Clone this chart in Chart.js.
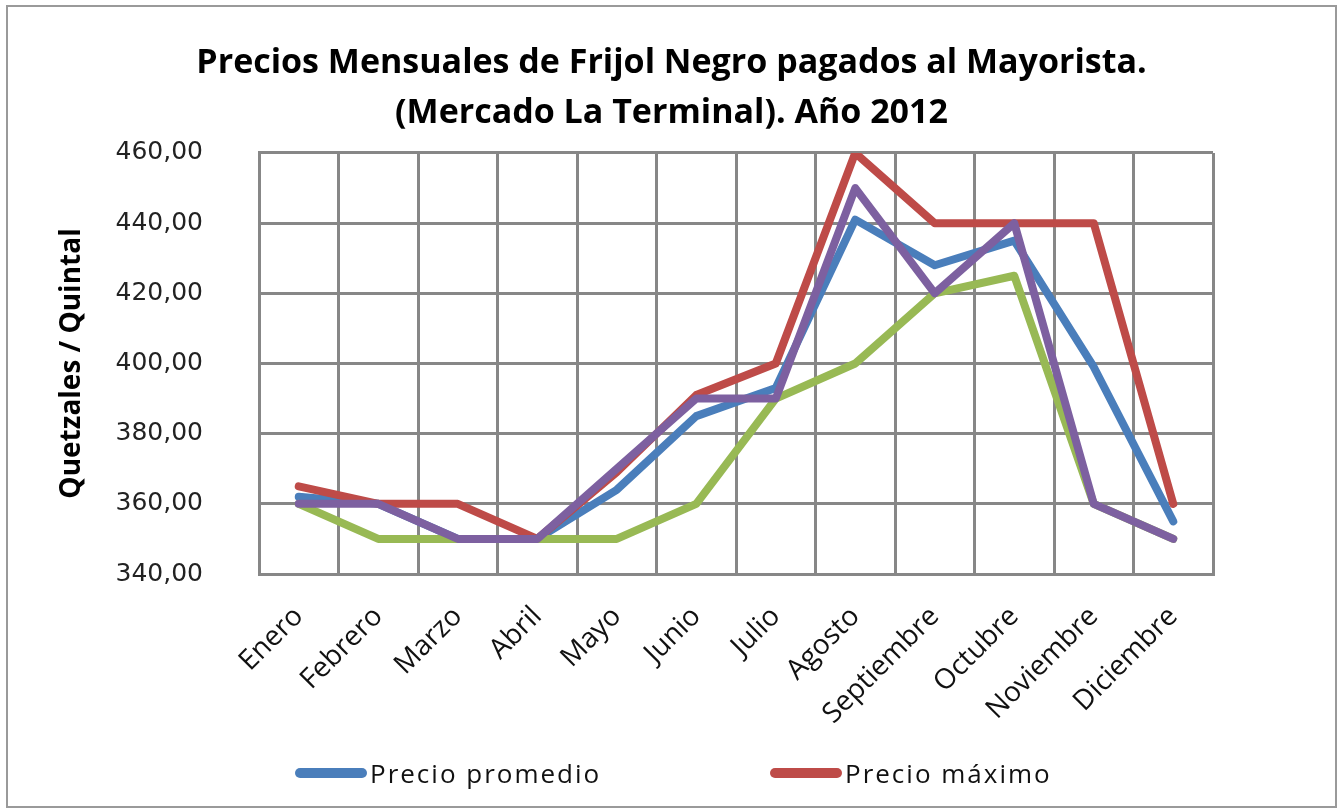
<!DOCTYPE html>
<html>
<head>
<meta charset="utf-8">
<script src="https://cdn.jsdelivr.net/npm/chart.js@4.4.1/dist/chart.umd.min.js"></script>
<style>
  body { margin: 0; background: #fff; }
  #wrap { position: relative; width: 1343px; height: 810px; }
  #myChart { position: absolute; left: 0; top: 0; }
  .leg { position: absolute; top: 757px; height: 32px; display: flex; align-items: center;
         font-family: "Open Sans", sans-serif; font-size: 26px; color: #111; letter-spacing: 2px; }
  .leg span.sw { display: inline-block; width: 72px; height: 10px; border-radius: 5px; margin-right: 3px; }
</style>
</head>
<body>
<div id="wrap">
  <canvas id="myChart" width="1343" height="810"></canvas>
  <div class="leg" style="left:295px"><span class="sw" id="sw0"></span><span id="lt0"></span></div>
  <div class="leg" style="left:770px"><span class="sw" id="sw1"></span><span id="lt1"></span></div>
</div>
<script>
const months = ['Enero', 'Febrero', 'Marzo', 'Abril', 'Mayo', 'Junio', 'Julio', 'Agosto', 'Septiembre', 'Octubre', 'Noviembre', 'Diciembre'];

const precioPromedio = [362, 360, 350, 350, 364, 385, 393, 441, 428, 435, 399, 355];
const precioMaximo = [365, 360, 360, 350, 369, 391, 400, 460, 440, 440, 440, 360];
const precioMinimo = [360, 350, 350, 350, 350, 360, 390, 400, 420, 425, 360, 350];
const precioModa = [360, 360, 350, 350, 370, 390, 390, 450, 420, 440, 360, 350];

const seriesNames = ['Precio promedio', 'Precio máximo', 'Precio mínimo', 'Precio moda'];
const seriesColors = ['#4a7ebb', '#be4b48', '#98b954', '#7d60a0'];
const yTicks = [340, 360, 380, 400, 420, 440, 460];

// legend (only the two visible entries)
for (let i = 0; i < 2; i++) {
  document.getElementById('sw' + i).style.background = seriesColors[i];
  document.getElementById('lt' + i).textContent = seriesNames[i];
}

const frame = {
  id: 'frame',
  beforeDraw(chart) {
    const c = chart.ctx;
    c.save();
    c.fillStyle = '#fff';
    c.fillRect(0, 0, chart.width, chart.height);
    c.strokeStyle = '#9a9a9a';
    c.lineWidth = 2;
    c.strokeRect(7, 6, 1329, 801);
    c.restore();
  }
};

function ds(i, data) {
  return {
    label: seriesNames[i],
    data: data,
    borderColor: seriesColors[i],
    backgroundColor: seriesColors[i],
    borderWidth: 8,
    pointRadius: 0,
    tension: 0,
    borderJoinStyle: 'round',
    borderCapStyle: 'round',
    order: 4 - i
  };
}

const ctx = document.getElementById('myChart');
const myChart = new Chart(ctx, {
  type: 'line',
  data: {
    labels: months,
    datasets: [
      ds(0, precioPromedio),
      ds(1, precioMaximo),
      ds(2, precioMinimo),
      ds(3, precioModa)
    ]
  },
  plugins: [frame],
  options: {
    responsive: false,
    animation: false,
    layout: { padding: { left: 20, right: 20, top: 0, bottom: 36 } },
    plugins: {
      legend: { display: false },
      tooltip: { enabled: false },
      title: {
        display: true,
        text: ['Precios Mensuales de Frijol Negro pagados al Mayorista.', '(Mercado La Terminal). Año 2012'],
        color: '#000',
        font: { family: 'Open Sans', size: 34, weight: 'bold', lineHeight: 1.47 },
        padding: { top: 38, bottom: 15 }
      }
    },
    scales: {
      x: {
        offset: true,
        grid: { offset: true, color: '#878787', lineWidth: 3, drawTicks: false },
        border: { color: '#878787', width: 3 },
        ticks: {
          color: '#111',
          font: { family: 'Open Sans', size: 28 },
          maxRotation: 45,
          minRotation: 45,
          padding: 26,
          autoSkip: false
        },
        afterFit(scale) { scale.height = 200; }
      },
      y: {
        min: 340,
        max: 460,
        afterBuildTicks(scale) { scale.ticks = yTicks.map(v => ({ value: v })); },
        grid: { color: '#878787', lineWidth: 3, drawTicks: false },
        border: { color: '#878787', width: 3 },
        ticks: {
          color: '#222',
          font: { family: 'DejaVu Sans', size: 25 },
          padding: 56,
          callback: v => v.toFixed(2).replace('.', ',')
        },
        title: {
          display: true,
          text: 'Quetzales / Quintal',
          color: '#000',
          font: { family: 'Open Sans', size: 28, weight: 'bold' },
          padding: { top: 35, bottom: 0 }
        },
        afterFit(scale) { scale.width = 239; }
      },
      // empty box on the right so the plot ends where the reference's does
      yRight: {
        position: 'right',
        grid: { display: false },
        border: { display: false },
        ticks: { display: false },
        afterFit(scale) { scale.width = 110; }
      }
    }
  }
});
</script>
</body>
</html>
